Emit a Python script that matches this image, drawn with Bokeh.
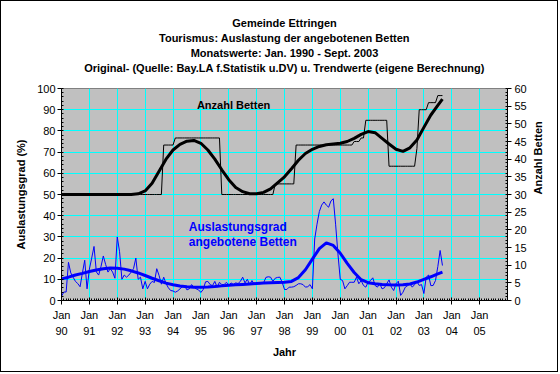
import math
from bokeh.plotting import figure
from bokeh.models import Range1d, LinearAxis, FixedTicker, ColumnDataSource, Title
from bokeh.embed import file_html
from bokeh.resources import INLINE
from bokeh.core.properties import value

# ---------------- data ----------------
title_lines = [
    "Gemeinde Ettringen",
    "Tourismus: Auslastung der angebotenen Betten",
    "Monatswerte: Jan. 1990 - Sept. 2003",
    "Original- (Quelle: Bay.LA f.Statistik u.DV) u. Trendwerte (eigene Berechnung)",
]
year_labels = ["90", "91", "92", "93", "94", "95", "96", "97",
               "98", "99", "00", "01", "02", "03", "04", "05"]

# monthly occupancy (%) Jan 1990 - Sep 2003
occ_1990 = [2, 4, 4, 18, 13, 11, 9, 8, 6.5, 13, 19, 5.5]
occ_1991 = [14.8, 20, 25.5, 13.5, 12, 16, 21, 17, 13.4, 15, 13.4, 10.5]
occ_1992 = [30, 23, 10, 12, 11, 12, 13.4, 15, 20, 10, 11, 5.5]
occ_1993 = [9, 5.5, 7.7, 9, 8.5, 15, 11.8, 7.7, 11, 8, 6, 4.7]
occ_1994 = [4.5, 3.9, 4.5, 5.5, 6.5, 7, 5, 5.5, 7.5, 6.3, 5.5, 5]
occ_1995 = [3.8, 5.2, 8.8, 9, 7.5, 7, 9, 6.3, 8.6, 7.5, 7.5, 8.6]
occ_1996 = [7.1, 8.3, 7.5, 8.3, 8, 9, 11, 8.3, 10, 7.5, 9.4, 7.5]
occ_1997 = [8.5, 7.9, 8, 8.3, 10.9, 11.2, 11, 9, 10.5, 10.9, 11, 8.6]
occ_1998 = [5.2, 5.2, 6.3, 6.3, 6.5, 7.1, 7.9, 7.9, 7.5, 6.3, 6.5, 7.5]
occ_1999 = [5.5, 29, 36, 42, 45, 46.5, 45, 44, 47, 48, 36, 22]
occ_2000 = [10, 9.4, 5.5, 7, 8.6, 8.6, 8.6, 11, 7.9, 9.4, 7.1, 6.3]
occ_2001 = [8.6, 9.4, 10.7, 7.1, 6.3, 7.9, 5.5, 6, 7.9, 9.7, 6.3, 4.7]
occ_2002 = [7.9, 9.1, 2.4, 3.9, 6.3, 7.0, 7.9, 6.3, 7.5, 9.0, 7.1, 7.5]
occ_2003 = [3.3, 11, 12, 7, 7.1, 9.4, 16, 23.6, 16.5]

# monthly number of beds Jan 1990 - Sep 2003
beds_1990 = [30, 30, 30, 30, 30, 30, 30, 30, 30, 30, 30, 30]
beds_1991 = [30, 30, 30, 30, 30, 30, 30, 30, 30, 30, 30, 30]
beds_1992 = [30, 30, 30, 30, 30, 30, 30, 30, 30, 30, 30, 30]
beds_1993 = [30, 30, 30, 30, 30, 30, 30, 30, 44, 44, 44, 44]
beds_1994 = [44, 46, 46, 46, 46, 46, 46, 46, 46, 46, 46, 46]
beds_1995 = [46, 46, 46, 46, 46, 46, 46, 46, 46, 30, 30, 30]
beds_1996 = [30, 30, 30, 30, 30, 30, 30, 30, 30, 30, 30, 30]
beds_1997 = [30, 30, 30, 30, 30, 30, 30, 30, 33, 33, 33, 33]
beds_1998 = [33, 33, 33, 33, 33, 44, 44, 44, 44, 44, 44, 44]
beds_1999 = [44, 44, 44, 44, 44, 44, 44, 44, 44, 44, 44, 44]
beds_2000 = [44, 44, 44, 44, 44, 44, 45, 45, 45, 46, 46, 51]
beds_2001 = [51, 51, 51, 51, 51, 51, 51, 51, 51, 38, 38, 38]
beds_2002 = [38, 38, 38, 38, 38, 38, 38, 38, 38, 43, 54, 54]
beds_2003 = [54, 54, 56, 56, 56, 56, 58, 58, 58]

# trend values, read quarterly (Jan/Apr/Jul/Oct) plus Sep 2003
occ_trend = [10.2, 11.0, 12.0, 12.8, 13.7, 14.4, 15.0, 15.3,
             15.2, 14.8, 14.0, 13.0, 11.8, 10.5, 9.3, 8.2,
             7.4, 6.8, 6.5, 6.3, 6.3, 6.4, 6.6, 6.9,
             7.2, 7.4, 7.6, 7.8, 8.0, 8.2, 8.4, 8.5,
             8.6, 9.0, 10.8, 14.5, 19.5, 24.5, 27.2, 26.0,
             22.3, 17.5, 13.2, 9.8, 8.4, 7.9, 7.6, 7.4,
             7.3, 7.4, 7.8, 8.7, 10.0, 11.2, 12.6, 13.4]
beds_trend = [30, 30, 30, 30, 30, 30, 30, 30,
              30, 30, 30, 30.2, 31.0, 33.2, 36.6, 40.0,
              42.6, 44.2, 45.1, 45.3, 44.5, 42.6, 40.0, 37.0,
              34.2, 32.0, 30.8, 30.2, 30.2, 30.6, 31.6, 33.3,
              35.0, 37.3, 39.7, 41.6, 42.8, 43.6, 44.1, 44.3,
              44.5, 45.0, 45.9, 47.0, 47.8, 47.5, 45.9, 44.3,
              42.8, 42.2, 43.2, 45.4, 49.0, 52.5, 55.2, 57.0]

note_black = ["Anzahl Betten"]
note_blue = ["Auslastungsgrad", "angebotene Betten"]

# ---------------- assemble ----------------
occupancy = (occ_1990 + occ_1991 + occ_1992 + occ_1993 + occ_1994 + occ_1995 +
             occ_1996 + occ_1997 + occ_1998 + occ_1999 + occ_2000 + occ_2001 +
             occ_2002 + occ_2003)
beds = (beds_1990 + beds_1991 + beds_1992 + beds_1993 + beds_1994 + beds_1995 +
        beds_1996 + beds_1997 + beds_1998 + beds_1999 + beds_2000 + beds_2001 +
        beds_2002 + beds_2003)
months = list(range(len(occupancy)))          # month index since Jan 1990
trend_months = list(range(0, len(occupancy) - 2, 3)) + [len(occupancy) - 1]

year_ticks = [12 * i for i in range(len(year_labels))]
x_end = 12 * len(year_labels)                 # Jan 2006

FONT = "Liberation Sans"
CYAN = "#00FFFF"
BLUE = "#0000FF"

W, H = 558, 372   # + 1px CSS border on every side = 560 x 374
p = figure(width=W, height=H, output_backend="svg", toolbar_location=None,
           x_range=Range1d(0, x_end), y_range=Range1d(0, 100),
           min_border_left=60, min_border_right=52,
           min_border_top=87, min_border_bottom=73,
           background_fill_color="#C0C0C0", border_fill_color="white",
           outline_line_color="#808080")
p.styles = {"border": "1px solid black"}
p.extra_y_ranges = {"beds": Range1d(0, 60)}

# title: four centred lines; the first Title added sits closest to the frame,
# preceded by a blank spacer line that leaves the gap above the plot area
spacer = Title(text=" ", standoff=0, text_font=FONT, text_font_size="11px")
p.add_layout(spacer, "above")
p.title.text = title_lines[0]
titles = [p.title]
for line in reversed(title_lines[1:]):
    t = Title(text=line)
    p.add_layout(t, "above")
    titles.append(t)
for t in titles:
    t.align = "center"
    t.text_font = FONT
    t.text_font_size = "11px"
    t.text_font_style = "bold"
    t.text_color = "black"
    t.standoff = 1

# x axis
xt = FixedTicker(ticks=year_ticks, minor_ticks=list(range(0, x_end + 1)))
xa = p.xaxis[0]
xa.ticker = xt
xa.major_label_overrides = {t: "Jan\n" + lab for t, lab in zip(year_ticks, year_labels)}
xa.axis_label = "Jahr"
xa.major_tick_in = 3
xa.major_tick_out = 4
xa.minor_tick_in = 2
xa.minor_tick_out = 0
xa.major_label_standoff = 4
xa.major_label_text_line_height = 1.36
xa.axis_label_standoff = 6
p.xgrid.ticker = xt

# left axis
yt = FixedTicker(ticks=list(range(0, 101, 10)), minor_ticks=list(range(0, 101, 2)))
ya = p.yaxis[0]
ya.ticker = yt
ya.axis_label = "Auslastungsgrad (%)"
ya.major_tick_in = 0
ya.major_tick_out = 4
ya.minor_tick_in = 2
ya.minor_tick_out = 0
ya.major_label_standoff = 2
ya.axis_label_standoff = 7
p.ygrid.ticker = yt

# right axis
ra = LinearAxis(y_range_name="beds", axis_label="Anzahl Betten",
                ticker=FixedTicker(ticks=list(range(0, 61, 5)), minor_ticks=list(range(0, 61, 1))))
ra.major_tick_in = 0
ra.major_tick_out = 4
ra.minor_tick_in = 2
ra.minor_tick_out = 0
ra.major_label_standoff = 3
ra.axis_label_standoff = 8
if "axis_label_orientation" in LinearAxis.properties():
    ra.axis_label_orientation = math.pi / 2     # read bottom-to-top
p.add_layout(ra, "right")

for ax in (xa, ya, ra):
    ax.axis_line_color = "black"
    ax.major_tick_line_color = "black"
    ax.minor_tick_line_color = "black"
    ax.major_label_text_font = FONT
    ax.major_label_text_font_size = "11px"
    ax.major_label_text_color = "black"
    ax.axis_label_text_font = FONT
    ax.axis_label_text_font_size = "11px"
    ax.axis_label_text_font_style = "bold"
    ax.axis_label_text_color = "black"

for g in (p.xgrid, p.ygrid):
    g.grid_line_color = CYAN
    g.grid_line_width = 1

# series
src = ColumnDataSource(dict(m=months, occ=occupancy, beds=beds))
tsrc = ColumnDataSource(dict(m=trend_months, occ=occ_trend, beds=beds_trend))

p.line("m", "beds", source=src, y_range_name="beds", line_color="black", line_width=1)
p.line("m", "beds", source=tsrc, y_range_name="beds", line_color="black", line_width=3)
p.line("m", "occ", source=src, line_color=BLUE, line_width=1)
p.line("m", "occ", source=tsrc, line_color=BLUE, line_width=3)

# in-plot notes
p.text(x=[58.3], y=[92], text=note_black, text_font=value(FONT), text_font_size="11px",
       text_font_style="bold", text_color="black", text_align="left", text_baseline="middle")
p.text(x=[54.8, 54.8], y=[34.9, 27.8], text=note_blue, text_font=value(FONT),
       text_font_size="12px", text_font_style="bold", text_color=BLUE,
       text_align="left", text_baseline="middle")

open("out.html", "w").write(file_html(p, INLINE))
